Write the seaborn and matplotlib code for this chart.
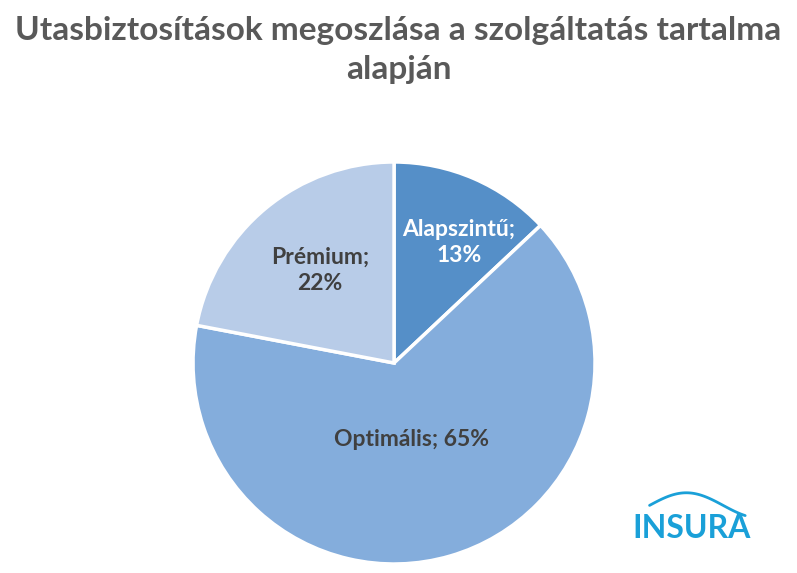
import numpy as np
import matplotlib
matplotlib.use("Agg")
import matplotlib.pyplot as plt
import seaborn as sns

categories = ["Alapszintű", "Optimális", "Prémium"]
values = [13, 65, 22]
colors = ["#558FC8", "#84ADDC", "#B8CCE8"]
label_colors = ["white", "#404040", "#404040"]
label_text = ["Alapszintű;\n13%", "Optimális; 65%", "Prémium;\n22%"]
label_dist = [0.68, 0.39, 0.59]
label_angle_shift = [-5.0, -3.0, -1.0]

sns.set_theme(style="white")
plt.rcParams['font.family'] = ['Lato', 'DejaVu Sans']

fig = plt.figure(figsize=(7.97, 5.73), dpi=100)
fig.patch.set_facecolor("white")
ax = fig.add_axes([0.2422, 0.0157, 0.5044, 0.7016])
wedges, _ = ax.pie(values, colors=colors, startangle=90, counterclock=False,
                   radius=1.0,
                   wedgeprops=dict(edgecolor="white", linewidth=2.5))
ax.set_xlim(-1, 1)
ax.set_ylim(-1, 1)
ax.set_aspect("equal")
ax.axis("off")

for w, txt, c, d, s in zip(wedges, label_text, label_colors, label_dist, label_angle_shift):
    ang = np.deg2rad((w.theta1 + w.theta2) / 2 + s)
    ax.text(d * np.cos(ang), d * np.sin(ang), txt, ha="center", va="center",
            fontsize=16.5, fontweight="bold", color=c, linespacing=1.3)

fig.text(0.5, 0.913, "Utasbiztosítások megoszlása a szolgáltatás tartalma\nalapján",
         ha="center", va="center", fontsize=24, fontweight="bold", color="#595959",
         linespacing=1.4)

# logo
fig.text(0.868, 0.078, "INSURA", ha="center", va="center", fontsize=23,
         color="#1AA0D8", fontweight="bold")
t = np.linspace(0, 1, 50)
xs = 0.815 + 0.12 * t
ys = 0.118 + 0.022 * np.sin(np.pi * t * 1.3)
fig.add_artist(plt.Line2D(xs, ys, color="#1AA0D8", lw=2, transform=fig.transFigure))

fig.savefig("out.png", dpi=100, facecolor="white")
